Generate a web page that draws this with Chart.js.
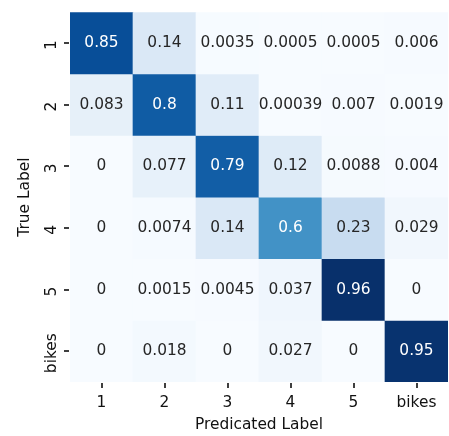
<!DOCTYPE html>
<html>
<head>
<meta charset="utf-8">
<script src="https://cdn.jsdelivr.net/npm/chart.js@4/dist/chart.umd.min.js"></script>
<style>
  html, body { margin: 0; padding: 0; background: #fff; }
  #wrap { width: 449px; height: 436px; }
</style>
</head>
<body>
<div id="wrap"><canvas id="cm"></canvas></div>
<script>
/* ==============================
   DATA (confusion matrix, rows = true label)
============================== */
const predLabels = ["1", "2", "3", "4", "5", "bikes"];
const trueLabels = ["1", "2", "3", "4", "5", "bikes"];

const row1 = [0.85, 0.14, 0.0035, 0.0005, 0.0005, 0.006];
const row2 = [0.083, 0.8, 0.11, 0.00039, 0.007, 0.0019];
const row3 = [0, 0.077, 0.79, 0.12, 0.0088, 0.004];
const row4 = [0, 0.0074, 0.14, 0.6, 0.23, 0.029];
const row5 = [0, 0.0015, 0.0045, 0.037, 0.96, 0];
const rowBikes = [0, 0.018, 0, 0.027, 0, 0.95];

const matrix = [row1, row2, row3, row4, row5, rowBikes];
const vmax = Math.max(...matrix.flat());

/* ==============================
   COLORS (matplotlib "Blues")
============================== */
const BLUES = ["#f7fbff", "#deebf7", "#c6dbef", "#9ecae1", "#6baed6",
               "#4292c6", "#2171b5", "#08519c", "#08306b"];

function hexToRgb(h) {
  return [1, 3, 5].map((i) => parseInt(h.slice(i, i + 2), 16));
}

function blues(t) {
  t = Math.min(1, Math.max(0, t));
  const pos = t * (BLUES.length - 1);
  const i = Math.min(BLUES.length - 2, Math.floor(pos));
  const f = pos - i;
  const a = hexToRgb(BLUES[i]);
  const b = hexToRgb(BLUES[i + 1]);
  const c = a.map((v, k) => Math.round(v + (b[k] - v) * f));
  return `rgb(${c[0]},${c[1]},${c[2]})`;
}

// same rule seaborn uses to pick annotation colour
function textColor(rgbStr) {
  const rgb = rgbStr.match(/\d+/g).map((v) => {
    const c = v / 255;
    return c <= 0.03928 ? c / 12.92 : Math.pow((c + 0.055) / 1.055, 2.4);
  });
  const lum = 0.2126 * rgb[0] + 0.7152 * rgb[1] + 0.0722 * rgb[2];
  return lum > 0.408 ? "#262626" : "#ffffff";
}

const FONT = "'DejaVu Sans', sans-serif";
const FS = 15.4;

/* ==============================
   CELL ANNOTATIONS
============================== */
const cellText = {
  id: "cellText",
  afterDatasetsDraw(chart) {
    const ctx = chart.ctx;
    ctx.save();
    ctx.font = `${FS}px ${FONT}`;
    ctx.textAlign = "center";
    ctx.textBaseline = "middle";
    matrix.forEach((row, r) => {
      chart.getDatasetMeta(r).data.forEach((bar, c) => {
        const v = row[c];
        ctx.fillStyle = textColor(blues(v / vmax));
        ctx.fillText(String(v), bar.x, (bar.y + bar.base) / 2);
      });
    });
    ctx.restore();
  },
};

// tick marks on both axes + vertical y tick labels (reading bottom to top)
const axisMarks = {
  id: "axisMarks",
  afterDraw(chart) {
    const xs = chart.scales.x;
    const ys = chart.scales.y;
    const ctx = chart.ctx;
    ctx.save();
    ctx.fillStyle = "#000000";
    xs.ticks.forEach((t, i) => {
      const px = Math.round(xs.getPixelForTick(i));
      ctx.fillRect(px - 0.75, xs.top + 1, 1.5, 5);
    });
    ys.ticks.forEach((t) => {
      const py = Math.round(ys.getPixelForValue(t.value));
      ctx.fillRect(ys.right - 6, py - 0.75, 5, 1.5);
    });

    ctx.font = `${FS}px ${FONT}`;
    ctx.fillStyle = "#111";
    ctx.textAlign = "center";
    ctx.textBaseline = "alphabetic";
    ys.ticks.forEach((t, i) => {
      const py = ys.getPixelForValue(t.value);
      ctx.save();
      ctx.translate(ys.right - 14, py + 2);
      ctx.rotate(-Math.PI / 2);
      ctx.fillText(trueLabels[i], 0, 0);
      ctx.restore();
    });
    ctx.restore();
  },
};

// one floating-bar dataset per true-label row
const datasets = matrix.map((row, r) => ({
  label: trueLabels[r],
  data: row.map(() => [r, r + 1]),
  backgroundColor: row.map((v) => blues(v / vmax)),
  borderWidth: 0,
  grouped: false,
  barPercentage: 1,
  categoryPercentage: 1,
}));

new Chart(document.getElementById("cm"), {
  type: "bar",
  data: { labels: predLabels, datasets },
  options: {
    responsive: true,
    maintainAspectRatio: false,
    animation: false,
    layout: { padding: { top: 6, right: 1, left: 0, bottom: 0 } },
    plugins: {
      legend: { display: false },
      tooltip: { enabled: false },
    },
    scales: {
      x: {
        type: "category",
        offset: true,
        grid: { display: false, tickLength: 5 },
        border: { display: false },
        ticks: { color: "#111", padding: 7, font: { family: FONT, size: FS }, maxRotation: 0 },
        title: {
          display: true,
          text: "Predicated Label",
          color: "#111",
          font: { family: FONT, size: FS },
          padding: { top: 0, bottom: 1.5 },
        },
        afterFit: (axis) => { axis.height = 54; },
      },
      y: {
        type: "linear",
        min: 0,
        max: 6,
        reverse: true,
        afterBuildTicks: (axis) => {
          axis.ticks = trueLabels.map((_, i) => ({ value: i + 0.5 }));
        },
        grid: { display: false },
        border: { display: false },
        // labels drawn rotated by the axisMarks plugin
        ticks: {
          color: "rgba(0,0,0,0)",
          font: { family: FONT, size: FS },
          callback: (v) => trueLabels[Math.floor(v)],
        },
        title: {
          display: true,
          text: "True Label",
          color: "#111",
          font: { family: FONT, size: FS },
          padding: { top: 15.5, bottom: 0 },
        },
        afterFit: (axis) => { axis.width = 70; },
      },
    },
  },
  plugins: [cellText, axisMarks],
});
</script>
</body>
</html>
